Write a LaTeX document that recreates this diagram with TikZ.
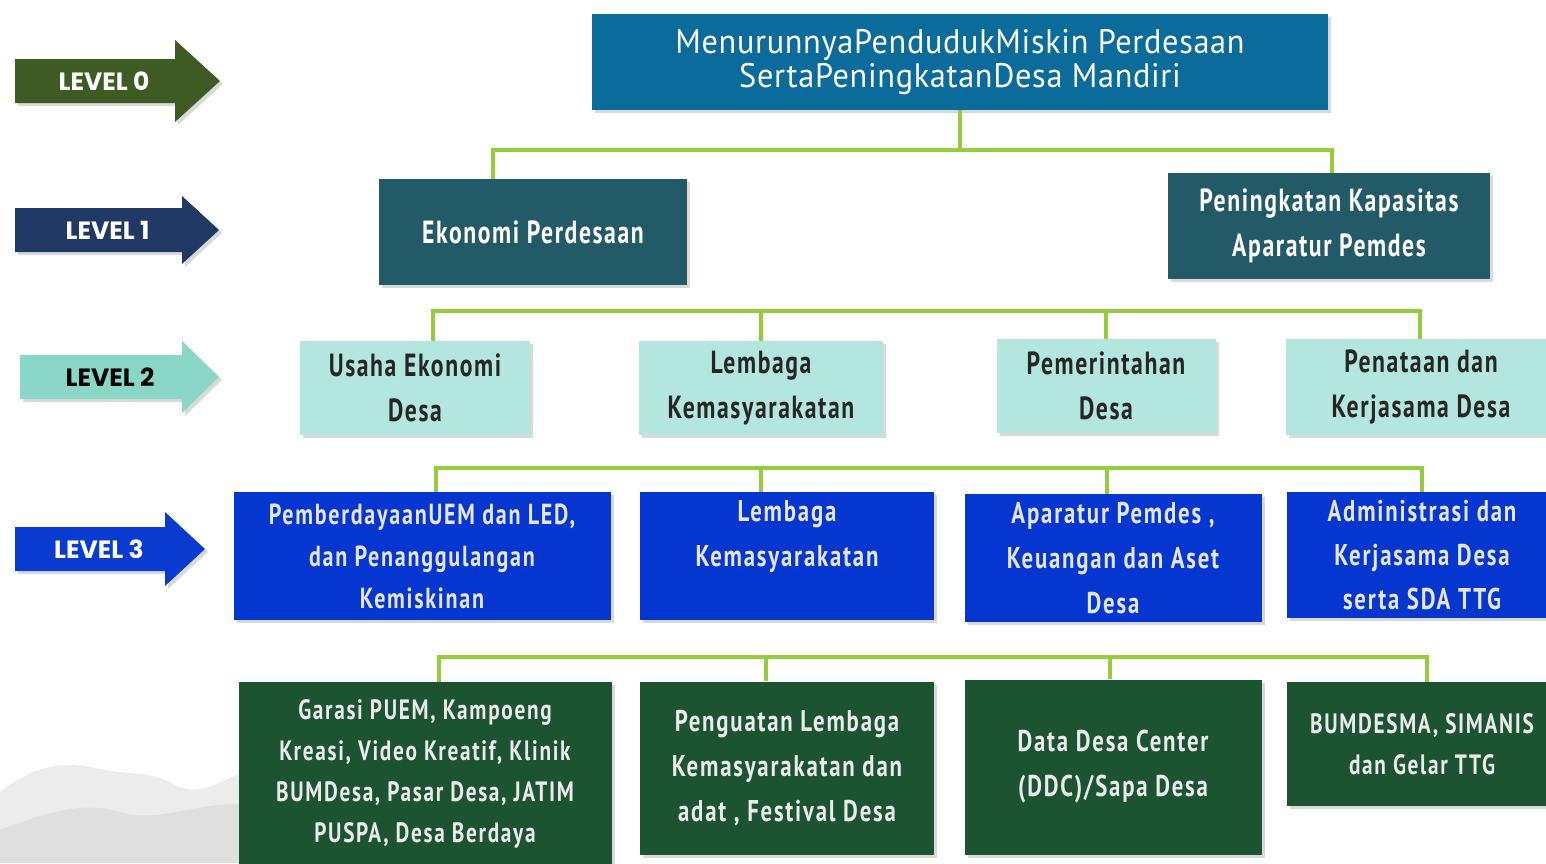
\documentclass[tikz,border=0pt]{standalone}
\usepackage{fontspec}
\setmainfont{PT Sans}
\newfontfamily\goalfont{PT Sans}[FakeStretch=0.95, LetterSpace=2]
\newfontfamily\agency{PT Sans}[FakeStretch=0.74, LetterSpace=5]
\newfontfamily\agencywide{PT Sans}[FakeStretch=0.76, LetterSpace=6]
\newfontfamily\levelfont{Poppins}
\usetikzlibrary{calc, positioning, shadows}

\definecolor{lvlzero}{HTML}{3D5B22}
\definecolor{lvlone}{HTML}{1F3864}
\definecolor{lvltwo}{HTML}{8AD7C8}
\definecolor{lvlthree}{HTML}{0A3BD0}
\definecolor{goalblue}{HTML}{0B6C9C}
\definecolor{areateal}{HTML}{225A68}
\definecolor{progaqua}{HTML}{B3E6DD}
\definecolor{actblue}{HTML}{0636D0}
\definecolor{outgreen}{HTML}{1C5331}
\definecolor{linkgreen}{HTML}{94CC3E}

\tikzset{
  mydrop/.style={drop shadow={shadow xshift=1.5pt, shadow yshift=-1.5pt, opacity=0.15, fill=black}},
  box/.style={rectangle, align=center, inner sep=0pt, mydrop},
  goalbox/.style={box, fill=goalblue, text=white, font=\goalfont\fontsize{17}{17}\selectfont},
  areabox/.style={box, fill=areateal, text=white, font=\agency\bfseries\fontsize{16}{22.5}\selectfont},
  progbox/.style={box, fill=progaqua, text=black!85, font=\agency\bfseries\fontsize{16}{22.5}\selectfont},
  actbox/.style={box, fill=actblue, text=white!90!black, font=\agencywide\bfseries\fontsize{14.5}{21}\selectfont},
  outbox/.style={box, fill=outgreen, text=white!92!black, font=\agencywide\bfseries\fontsize{14}{20.5}\selectfont},
  link/.style={draw=linkgreen, line width=2.3pt},
  lvltext/.style={font=\levelfont\bfseries\fontsize{12.5}{14}\selectfont}
}

\begin{document}
\begin{tikzpicture}[x=0.5pt, y=-0.5pt]
  \useasboundingbox (0,0) rectangle (1546,863);

  % grey texture bottom left
  \fill[gray!15] (0,863) -- (0,792)
    .. controls (30,768) and (60,760) .. (95,768)
    .. controls (130,776) and (150,770) .. (175,785)
    .. controls (200,798) and (220,780) .. (245,772) -- (245,863) -- cycle;
  \fill[gray!25] (0,863) -- (0,830)
    .. controls (40,815) and (80,800) .. (120,812)
    .. controls (160,824) and (200,800) .. (245,805) -- (245,863) -- cycle;

  % level arrows
  \foreach \yc/\xs/\xb/\xt/\hh/\col/\tcol/\lab in {
      81/15/175/220/41/lvlzero/white/LEVEL 0,
      230/15/182/219/34/lvlone/white/LEVEL 1,
      377/20/182/219/36/lvltwo/black/LEVEL 2,
      549/15/165/205/37/lvlthree/white/LEVEL 3}{
    \fill[\col, mydrop] (\xs,\yc-22) -- (\xb,\yc-22) -- (\xb,\yc-\hh) -- (\xt,\yc)
      -- (\xb,\yc+\hh) -- (\xb,\yc+22) -- (\xs,\yc+22) -- cycle;
    \node[lvltext, text=\tcol] (lab\yc) at (\xs/2+\xb/2+9,\yc) {\lab};
  }

  % level 0
  \node[goalbox, minimum width=368pt, minimum height=48pt] (goal) at (960,62)
    {MenurunnyaPendudukMiskin Perdesaan\\SertaPeningkatanDesa Mandiri};

  % level 1
  \node[areabox, minimum width=154pt, minimum height=53pt] (eko) at (533,232)
    {Ekonomi Perdesaan};
  \node[areabox, minimum width=161pt, minimum height=53pt] (kap) at (1329,226)
    {Peningkatan Kapasitas\\Aparatur Pemdes};

  % level 2
  \node[progbox, minimum width=115pt, minimum height=47pt] (usaha) at (415,388)
    {Usaha Ekonomi\\Desa};
  \node[progbox, minimum width=122pt, minimum height=47pt] (lemb) at (761,388)
    {Lembaga\\Kemasyarakatan};
  \node[progbox, minimum width=109.5pt, minimum height=47pt] (pemr) at (1106,386)
    {Pemerintahan\\Desa};
  \node[progbox, minimum width=135pt, minimum height=48pt] (tata) at (1421,387)
    {Penataan dan\\Kerjasama Desa};

  % level 3
  \node[actbox, minimum width=188.5pt, minimum height=64pt] (pemb) at (422,556)
    {PemberdayaanUEM dan LED,\\dan Penanggulangan\\Kemiskinan};
  \node[actbox, minimum width=147pt, minimum height=64pt, font=\agencywide\bfseries\fontsize{15}{22.5}\selectfont] (kmsy) at (787,556)
    {Lembaga\\Kemasyarakatan\\~};
  \node[actbox, minimum width=148.5pt, minimum height=64pt, font=\agencywide\bfseries\fontsize{15}{22.5}\selectfont] (apar) at (1113,558)
    {Aparatur Pemdes ,\\Keuangan dan Aset\\Desa};
  \node[actbox, minimum width=135pt, minimum height=63pt, font=\agencywide\bfseries\fontsize{15}{22}\selectfont] (admn) at (1422,555)
    {Administrasi dan\\Kerjasama Desa\\serta SDA TTG};

  % level 4
  \node[outbox, minimum width=186.5pt, minimum height=92pt] (garasi) at (425,774)
    {Garasi PUEM, Kampoeng\\Kreasi, Video Kreatif, Klinik\\BUMDesa, Pasar Desa, JATIM\\PUSPA, Desa Berdaya};
  \node[outbox, minimum width=147pt, minimum height=86.5pt, font=\agencywide\bfseries\fontsize{15}{22.5}\selectfont] (festv) at (787,768)
    {Penguatan Lembaga\\Kemasyarakatan dan\\adat , Festival Desa};
  \node[outbox, minimum width=148.5pt, minimum height=87.5pt, font=\agencywide\bfseries\fontsize{15}{22.5}\selectfont] (ddc) at (1113,767)
    {Data Desa Center\\(DDC)/Sapa Desa};
  \node[outbox, minimum width=135pt, minimum height=62pt] (bumd) at (1422,744)
    {BUMDESMA, SIMANIS\\dan Gelar TTG};

  % connectors level 0 -> 1
  \coordinate (bar1) at (0,150);
  \draw[link] (goal.south) -- (goal.south |- bar1);
  \draw[link] ($(eko.north)+(-40,0)$) |- ($(bar1 -| kap.north)+(3,0)$) -- ($(kap.north)+(3,0)$);

  % connectors level 1 -> 2
  \coordinate (bar2) at (0,311);
  \draw[link] ($(usaha.north)+(18,0)$) |- ($(bar2 -| tata.north)+(-1,0)$) -- ($(tata.north)+(-1,0)$);
  \draw[link] (lemb.north) -- (lemb.north |- bar2);
  \draw[link] (pemr.north) -- (pemr.north |- bar2);

  % connectors level 2 -> 3
  \coordinate (bar3) at (0,468);
  \draw[link] ($(pemb.north)+(14,0)$) |- ($(bar3 -| admn.north)+(0,0)$) -- (admn.north);
  \draw[link] ($(kmsy.north)+(-26,0)$) -- ($(bar3 -| kmsy.north)+(-26,0)$);
  \draw[link] ($(apar.north)+(-6,0)$) -- ($(bar3 -| apar.north)+(-6,0)$);

  % connectors level 3 -> 4
  \coordinate (bar4) at (0,657);
  \draw[link] ($(garasi.north)+(14,0)$) |- ($(bar4 -| bumd.north)+(5,0)$) -- ($(bumd.north)+(5,0)$);
  \draw[link] ($(festv.north)+(-21,0)$) -- ($(bar4 -| festv.north)+(-21,0)$);
  \draw[link] ($(ddc.north)+(-3,0)$) -- ($(bar4 -| ddc.north)+(-3,0)$);
\end{tikzpicture}
\end{document}
